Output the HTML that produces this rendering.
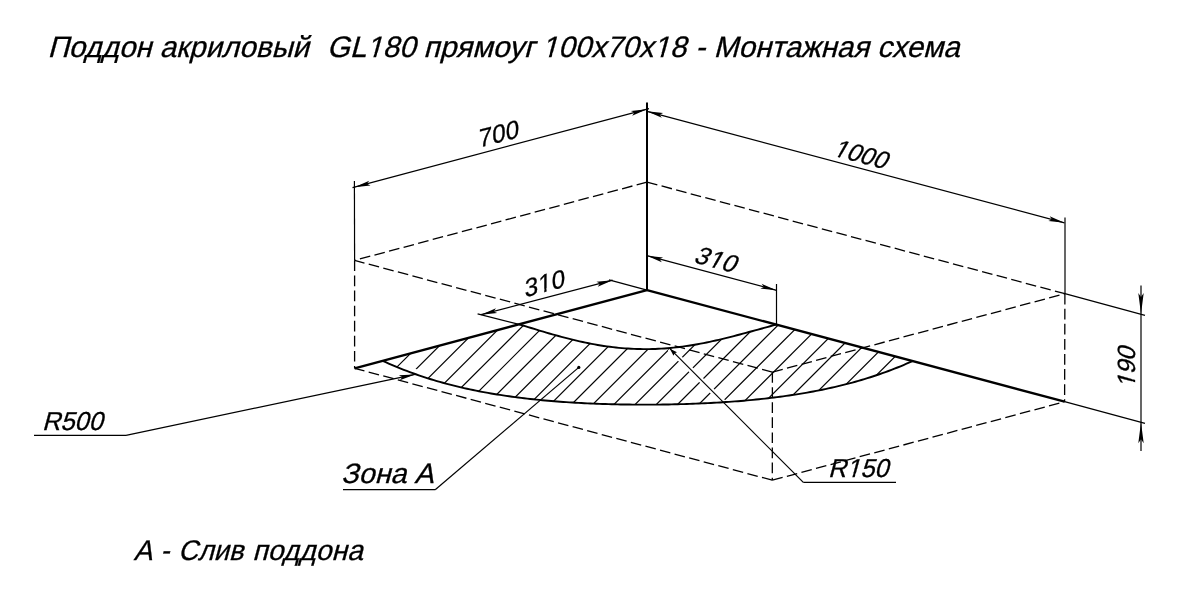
<!DOCTYPE html>
<html><head><meta charset="utf-8"><style>
html,body{margin:0;padding:0;background:#fff;}
svg{display:block;will-change:transform;}
text{font-family:"Liberation Sans",sans-serif;fill:#000;stroke:#000;stroke-width:0.3px;}
.da{stroke:#000;stroke-width:1.3;stroke-dasharray:10.7 4.38;fill:none;}
.th,.th line{stroke:#000;stroke-width:1.2;fill:none;}
.tk{stroke:#000;stroke-width:2.4;fill:none;}
.tk2{stroke:#000;stroke-width:2;fill:none;}
.arc{stroke:#000;stroke-width:1.9;fill:none;}
.ar{fill:#000;stroke:none;}
</style></head>
<body><svg width="1188" height="600" viewBox="0 0 1188 600">
<rect width="1188" height="600" fill="#fff"/>
<line x1="647" y1="182.1" x2="354.6" y2="260.4" class="da"/>
<line x1="647" y1="182.1" x2="1064.9" y2="293.7" class="da"/>
<line x1="772.4" y1="372.1" x2="1064.9" y2="293.7" class="da"/>
<line x1="772.4" y1="372.1" x2="354.6" y2="260.4" class="da"/>
<line x1="354.6" y1="260.4" x2="354.6" y2="368.3" class="da"/>
<line x1="1064.9" y1="293.7" x2="1064.6" y2="401.7" class="da"/>
<line x1="772.4" y1="372.1" x2="772.3" y2="480.2" class="da"/>
<line x1="772.3" y1="480.2" x2="354.6" y2="368.3" class="da"/>
<line x1="772.3" y1="480.2" x2="1064.6" y2="401.7" class="da"/>
<clipPath id="hc"><path d="M382.69,360.79 L519.12,324.3 L522.14,325.23 L525.17,326.17 L528.19,327.1 L531.22,328.03 L534.24,328.95 L537.26,329.88 L540.29,330.79 L543.31,331.69 L546.34,332.59 L549.36,333.47 L552.39,334.34 L555.41,335.19 L558.43,336.03 L561.46,336.86 L564.48,337.66 L567.51,338.44 L570.53,339.2 L573.55,339.95 L576.58,340.66 L579.6,341.36 L582.63,342.03 L585.65,342.67 L588.67,343.29 L591.7,343.88 L594.72,344.44 L597.75,344.97 L600.77,345.47 L603.79,345.94 L606.82,346.38 L609.84,346.79 L612.87,347.17 L615.89,347.51 L618.91,347.83 L621.94,348.11 L624.96,348.35 L627.99,348.56 L631.01,348.74 L634.04,348.89 L637.06,349 L640.08,349.07 L643.11,349.11 L646.13,349.12 L649.16,349.09 L652.18,349.03 L655.2,348.93 L658.23,348.8 L661.25,348.64 L664.28,348.44 L667.3,348.21 L670.32,347.95 L673.35,347.66 L676.37,347.33 L679.4,346.97 L682.42,346.59 L685.44,346.17 L688.47,345.72 L691.49,345.24 L694.52,344.74 L697.54,344.21 L700.57,343.65 L703.59,343.07 L706.61,342.46 L709.64,341.83 L712.66,341.18 L715.69,340.51 L718.71,339.81 L721.73,339.1 L724.76,338.37 L727.78,337.62 L730.81,336.86 L733.83,336.08 L736.85,335.29 L739.88,334.49 L742.9,333.68 L745.93,332.87 L748.95,332.04 L751.97,331.21 L755,330.38 L758.02,329.55 L761.05,328.71 L764.07,327.88 L767.09,327.06 L770.12,326.23 L773.14,325.42 L776.17,324.62 L912.53,361.06 L909.52,362.41 L906.51,363.73 L903.5,365.02 L900.49,366.27 L897.48,367.5 L894.47,368.69 L891.46,369.86 L888.45,370.99 L885.44,372.1 L882.43,373.18 L879.42,374.23 L876.41,375.26 L873.4,376.26 L870.39,377.23 L867.38,378.18 L864.37,379.11 L861.36,380.01 L858.34,380.88 L855.33,381.73 L852.32,382.56 L849.31,383.37 L846.3,384.16 L843.29,384.92 L840.28,385.67 L837.27,386.39 L834.26,387.09 L831.25,387.78 L828.24,388.44 L825.23,389.08 L822.22,389.71 L819.21,390.32 L816.2,390.91 L813.19,391.48 L810.18,392.04 L807.17,392.58 L804.16,393.11 L801.15,393.61 L798.14,394.11 L795.12,394.58 L792.11,395.05 L789.1,395.49 L786.09,395.93 L783.08,396.35 L780.07,396.76 L777.06,397.15 L774.05,397.53 L771.04,397.9 L768.03,398.25 L765.02,398.6 L762.01,398.93 L759,399.25 L755.99,399.55 L752.98,399.85 L749.97,400.14 L746.96,400.41 L743.95,400.68 L740.94,400.93 L737.93,401.18 L734.92,401.42 L731.9,401.64 L728.89,401.86 L725.88,402.06 L722.87,402.26 L719.86,402.45 L716.85,402.63 L713.84,402.8 L710.83,402.97 L707.82,403.12 L704.81,403.27 L701.8,403.41 L698.79,403.54 L695.78,403.67 L692.77,403.78 L689.76,403.89 L686.75,403.99 L683.74,404.08 L680.73,404.17 L677.72,404.25 L674.71,404.32 L671.69,404.39 L668.68,404.44 L665.67,404.49 L662.66,404.54 L659.65,404.58 L656.64,404.61 L653.63,404.63 L650.62,404.64 L647.61,404.65 L644.6,404.66 L641.59,404.65 L638.58,404.64 L635.57,404.62 L632.56,404.6 L629.55,404.56 L626.54,404.53 L623.53,404.48 L620.52,404.43 L617.51,404.37 L614.5,404.3 L611.49,404.22 L608.47,404.14 L605.46,404.05 L602.45,403.95 L599.44,403.85 L596.43,403.73 L593.42,403.61 L590.41,403.48 L587.4,403.34 L584.39,403.2 L581.38,403.04 L578.37,402.88 L575.36,402.71 L572.35,402.53 L569.34,402.34 L566.33,402.14 L563.32,401.93 L560.31,401.71 L557.3,401.48 L554.29,401.24 L551.28,400.99 L548.27,400.73 L545.25,400.46 L542.24,400.18 L539.23,399.89 L536.22,399.59 L533.21,399.27 L530.2,398.94 L527.19,398.6 L524.18,398.25 L521.17,397.88 L518.16,397.5 L515.15,397.11 L512.14,396.7 L509.13,396.28 L506.12,395.85 L503.11,395.4 L500.1,394.93 L497.09,394.46 L494.08,393.96 L491.07,393.45 L488.06,392.92 L485.05,392.37 L482.03,391.81 L479.02,391.23 L476.01,390.64 L473,390.02 L469.99,389.39 L466.98,388.73 L463.97,388.06 L460.96,387.36 L457.95,386.65 L454.94,385.92 L451.93,385.16 L448.92,384.38 L445.91,383.58 L442.9,382.76 L439.89,381.92 L436.88,381.05 L433.87,380.15 L430.86,379.24 L427.85,378.29 L424.84,377.32 L421.83,376.33 L418.81,375.31 L415.8,374.26 L412.79,373.19 L409.78,372.08 L406.77,370.95 L403.76,369.79 L400.75,368.6 L397.74,367.37 L394.73,366.12 L391.72,364.84 L388.71,363.52 L385.7,362.17 L382.69,360.79 Z"/></clipPath>
<mask id="hm" maskUnits="userSpaceOnUse" x="0" y="0" width="1188" height="600"><rect width="1188" height="600" fill="#fff"/><line x1="669.9" y1="348.7" x2="803.3" y2="482.4" stroke="#000" stroke-width="5.5"/><circle cx="673" cy="352" r="5" fill="#000"/><circle cx="414" cy="373.6" r="5" fill="#000"/></mask>
<g clip-path="url(#hc)"><g mask="url(#hm)" class="th"><line x1="174.4" y1="420" x2="294.4" y2="300"/><line x1="195.6" y1="420" x2="315.6" y2="300"/><line x1="216.8" y1="420" x2="336.8" y2="300"/><line x1="238" y1="420" x2="358" y2="300"/><line x1="259.2" y1="420" x2="379.2" y2="300"/><line x1="280.4" y1="420" x2="400.4" y2="300"/><line x1="301.6" y1="420" x2="421.6" y2="300"/><line x1="322.8" y1="420" x2="442.8" y2="300"/><line x1="344" y1="420" x2="464" y2="300"/><line x1="365.2" y1="420" x2="485.2" y2="300"/><line x1="386.4" y1="420" x2="506.4" y2="300"/><line x1="407.6" y1="420" x2="527.6" y2="300"/><line x1="428.8" y1="420" x2="548.8" y2="300"/><line x1="450" y1="420" x2="570" y2="300"/><line x1="471.2" y1="420" x2="591.2" y2="300"/><line x1="492.4" y1="420" x2="612.4" y2="300"/><line x1="513.6" y1="420" x2="633.6" y2="300"/><line x1="534.8" y1="420" x2="654.8" y2="300"/><line x1="556" y1="420" x2="676" y2="300"/><line x1="577.2" y1="420" x2="697.2" y2="300"/><line x1="598.4" y1="420" x2="718.4" y2="300"/><line x1="619.6" y1="420" x2="739.6" y2="300"/><line x1="640.8" y1="420" x2="760.8" y2="300"/><line x1="662" y1="420" x2="782" y2="300"/><line x1="683.2" y1="420" x2="803.2" y2="300"/><line x1="704.4" y1="420" x2="824.4" y2="300"/><line x1="725.6" y1="420" x2="845.6" y2="300"/><line x1="746.8" y1="420" x2="866.8" y2="300"/><line x1="768" y1="420" x2="888" y2="300"/><line x1="789.2" y1="420" x2="909.2" y2="300"/><line x1="810.4" y1="420" x2="930.4" y2="300"/><line x1="831.6" y1="420" x2="951.6" y2="300"/><line x1="852.8" y1="420" x2="972.8" y2="300"/><line x1="874" y1="420" x2="994" y2="300"/><line x1="895.2" y1="420" x2="1015.2" y2="300"/><line x1="916.4" y1="420" x2="1036.4" y2="300"/><line x1="937.6" y1="420" x2="1057.6" y2="300"/><line x1="958.8" y1="420" x2="1078.8" y2="300"/><line x1="980" y1="420" x2="1100" y2="300"/></g></g>
<path d="M519.12,324.3 L522.14,325.23 L525.17,326.17 L528.19,327.1 L531.22,328.03 L534.24,328.95 L537.26,329.88 L540.29,330.79 L543.31,331.69 L546.34,332.59 L549.36,333.47 L552.39,334.34 L555.41,335.19 L558.43,336.03 L561.46,336.86 L564.48,337.66 L567.51,338.44 L570.53,339.2 L573.55,339.95 L576.58,340.66 L579.6,341.36 L582.63,342.03 L585.65,342.67 L588.67,343.29 L591.7,343.88 L594.72,344.44 L597.75,344.97 L600.77,345.47 L603.79,345.94 L606.82,346.38 L609.84,346.79 L612.87,347.17 L615.89,347.51 L618.91,347.83 L621.94,348.11 L624.96,348.35 L627.99,348.56 L631.01,348.74 L634.04,348.89 L637.06,349 L640.08,349.07 L643.11,349.11 L646.13,349.12 L649.16,349.09 L652.18,349.03 L655.2,348.93 L658.23,348.8 L661.25,348.64 L664.28,348.44 L667.3,348.21 L670.32,347.95 L673.35,347.66 L676.37,347.33 L679.4,346.97 L682.42,346.59 L685.44,346.17 L688.47,345.72 L691.49,345.24 L694.52,344.74 L697.54,344.21 L700.57,343.65 L703.59,343.07 L706.61,342.46 L709.64,341.83 L712.66,341.18 L715.69,340.51 L718.71,339.81 L721.73,339.1 L724.76,338.37 L727.78,337.62 L730.81,336.86 L733.83,336.08 L736.85,335.29 L739.88,334.49 L742.9,333.68 L745.93,332.87 L748.95,332.04 L751.97,331.21 L755,330.38 L758.02,329.55 L761.05,328.71 L764.07,327.88 L767.09,327.06 L770.12,326.23 L773.14,325.42 L776.17,324.62" class="arc"/>
<path d="M382.69,360.79 L385.7,362.17 L388.71,363.52 L391.72,364.84 L394.73,366.12 L397.74,367.37 L400.75,368.6 L403.76,369.79 L406.77,370.95 L409.78,372.08 L412.79,373.19 L415.8,374.26 L418.81,375.31 L421.83,376.33 L424.84,377.32 L427.85,378.29 L430.86,379.24 L433.87,380.15 L436.88,381.05 L439.89,381.92 L442.9,382.76 L445.91,383.58 L448.92,384.38 L451.93,385.16 L454.94,385.92 L457.95,386.65 L460.96,387.36 L463.97,388.06 L466.98,388.73 L469.99,389.39 L473,390.02 L476.01,390.64 L479.02,391.23 L482.03,391.81 L485.05,392.37 L488.06,392.92 L491.07,393.45 L494.08,393.96 L497.09,394.46 L500.1,394.93 L503.11,395.4 L506.12,395.85 L509.13,396.28 L512.14,396.7 L515.15,397.11 L518.16,397.5 L521.17,397.88 L524.18,398.25 L527.19,398.6 L530.2,398.94 L533.21,399.27 L536.22,399.59 L539.23,399.89 L542.24,400.18 L545.25,400.46 L548.27,400.73 L551.28,400.99 L554.29,401.24 L557.3,401.48 L560.31,401.71 L563.32,401.93 L566.33,402.14 L569.34,402.34 L572.35,402.53 L575.36,402.71 L578.37,402.88 L581.38,403.04 L584.39,403.2 L587.4,403.34 L590.41,403.48 L593.42,403.61 L596.43,403.73 L599.44,403.85 L602.45,403.95 L605.46,404.05 L608.47,404.14 L611.49,404.22 L614.5,404.3 L617.51,404.37 L620.52,404.43 L623.53,404.48 L626.54,404.53 L629.55,404.56 L632.56,404.6 L635.57,404.62 L638.58,404.64 L641.59,404.65 L644.6,404.66 L647.61,404.65 L650.62,404.64 L653.63,404.63 L656.64,404.61 L659.65,404.58 L662.66,404.54 L665.67,404.49 L668.68,404.44 L671.69,404.39 L674.71,404.32 L677.72,404.25 L680.73,404.17 L683.74,404.08 L686.75,403.99 L689.76,403.89 L692.77,403.78 L695.78,403.67 L698.79,403.54 L701.8,403.41 L704.81,403.27 L707.82,403.12 L710.83,402.97 L713.84,402.8 L716.85,402.63 L719.86,402.45 L722.87,402.26 L725.88,402.06 L728.89,401.86 L731.9,401.64 L734.92,401.42 L737.93,401.18 L740.94,400.93 L743.95,400.68 L746.96,400.41 L749.97,400.14 L752.98,399.85 L755.99,399.55 L759,399.25 L762.01,398.93 L765.02,398.6 L768.03,398.25 L771.04,397.9 L774.05,397.53 L777.06,397.15 L780.07,396.76 L783.08,396.35 L786.09,395.93 L789.1,395.49 L792.11,395.05 L795.12,394.58 L798.14,394.11 L801.15,393.61 L804.16,393.11 L807.17,392.58 L810.18,392.04 L813.19,391.48 L816.2,390.91 L819.21,390.32 L822.22,389.71 L825.23,389.08 L828.24,388.44 L831.25,387.78 L834.26,387.09 L837.27,386.39 L840.28,385.67 L843.29,384.92 L846.3,384.16 L849.31,383.37 L852.32,382.56 L855.33,381.73 L858.34,380.88 L861.36,380.01 L864.37,379.11 L867.38,378.18 L870.39,377.23 L873.4,376.26 L876.41,375.26 L879.42,374.23 L882.43,373.18 L885.44,372.1 L888.45,370.99 L891.46,369.86 L894.47,368.69 L897.48,367.5 L900.49,366.27 L903.5,365.02 L906.51,363.73 L909.52,362.41 L912.53,361.06" class="arc"/>
<line x1="647" y1="290.1" x2="354.6" y2="368.3" class="tk"/>
<line x1="647" y1="290.1" x2="1064.6" y2="401.7" class="tk"/>
<line x1="647" y1="102.5" x2="647" y2="290.1" class="tk2"/>
<line x1="354.4" y1="181" x2="354.6" y2="260.4" class="th"/>
<line x1="1065" y1="217.5" x2="1065" y2="293.7" class="th"/>
<line x1="352.5" y1="187.7" x2="649" y2="108.6" class="th"/>
<path d="M354.4,187.2L370.5,185.49L366.96,183.85L369.22,180.66Z" class="ar"/>
<path d="M647,109.2L630.9,110.91L634.44,112.55L632.18,115.74Z" class="ar"/>
<line x1="647" y1="111.3" x2="1064.5" y2="222.8" class="th"/>
<path d="M647,111.3L661.81,117.84L659.56,114.65L663.1,113.01Z" class="ar"/>
<path d="M1064.5,222.8L1049.69,216.26L1051.94,219.45L1048.4,221.09Z" class="ar"/>
<line x1="647" y1="255.7" x2="776.5" y2="290.3" class="th"/>
<path d="M647,255.7L661.81,262.25L659.56,259.06L663.1,257.41Z" class="ar"/>
<path d="M776.5,290.3L761.69,283.75L763.94,286.94L760.4,288.59Z" class="ar"/>
<line x1="776.5" y1="284" x2="776.5" y2="324.6" class="th"/>
<line x1="481.1" y1="314.7" x2="612.6" y2="280.2" class="th"/>
<path d="M481.1,314.7L497.21,313.06L493.67,311.4L495.94,308.22Z" class="ar"/>
<path d="M612.6,280.2L596.49,281.84L600.03,283.5L597.76,286.68Z" class="ar"/>
<line x1="477.6" y1="313.9" x2="519.12" y2="324.3" class="th"/>
<line x1="609" y1="279.9" x2="647" y2="290.1" class="th"/>
<line x1="1064.9" y1="293.7" x2="1145" y2="315.4" class="th"/>
<line x1="1064.6" y1="401.7" x2="1145" y2="423.4" class="th"/>
<line x1="1141" y1="285.4" x2="1141" y2="451" class="th"/>
<path d="M1141,314.1L1143.7,293.1L1141,297.1L1138.3,293.1Z" class="ar"/>
<path d="M1141,422.2L1138.3,443.2L1141,439.2L1143.7,443.2Z" class="ar"/>
<line x1="34" y1="435.3" x2="126" y2="435.3" class="th"/>
<line x1="126" y1="435.3" x2="415" y2="374.4" class="th"/>
<path d="M415,374.4L398.83,375.25L402.28,377.08L399.86,380.15Z" class="ar"/>
<line x1="343" y1="489.7" x2="435.2" y2="489.7" class="th"/>
<line x1="435.2" y1="489.7" x2="578.8" y2="367.4" class="th"/>
<circle cx="578.8" cy="367.4" r="1.6" fill="#000"/>
<line x1="803.3" y1="482.4" x2="896" y2="482.4" class="th"/>
<line x1="803.3" y1="482.4" x2="669.9" y2="348.7" class="th"/>
<path d="M669.9,348.7L673.5,355.85L674.56,353.37L677.04,352.31Z" class="ar"/>
<text id="tx0" x="0" y="0" font-size="25" text-anchor="middle" dy="0.35em" transform="translate(499,133.4) rotate(-14.93) skewX(-15) scale(1.0,1)">700</text>
<mask id="mtx1" maskUnits="userSpaceOnUse" x="-2000" y="-2000" width="4000" height="4000"><rect x="-2000" y="-2000" width="4000" height="4000" fill="#fff"/><rect x="-26.7" y="5.45" width="5.11" height="5.13" fill="#000"/><rect x="-19.23" y="5.45" width="4.98" height="5.13" fill="#000"/></mask>
<text id="tx1" x="0" y="0" font-size="25" text-anchor="middle" dy="0.35em" transform="translate(862.6,154.5) rotate(14.95) skewX(-15) scale(0.98,1)" mask="url(#mtx1)">1000</text>
<mask id="mtx2" maskUnits="userSpaceOnUse" x="-2000" y="-2000" width="4000" height="4000"><rect x="-2000" y="-2000" width="4000" height="4000" fill="#fff"/><rect x="-5.86" y="5.45" width="5.11" height="5.13" fill="#000"/><rect x="1.61" y="5.45" width="4.98" height="5.13" fill="#000"/></mask>
<text id="tx2" x="0" y="0" font-size="25" text-anchor="middle" dy="0.35em" transform="translate(717.5,259.6) rotate(14.95) skewX(-15) scale(1.0,1)" mask="url(#mtx2)">310</text>
<mask id="mtx3" maskUnits="userSpaceOnUse" x="-2000" y="-2000" width="4000" height="4000"><rect x="-2000" y="-2000" width="4000" height="4000" fill="#fff"/><rect x="-5.86" y="5.45" width="5.11" height="5.13" fill="#000"/><rect x="1.61" y="5.45" width="4.98" height="5.13" fill="#000"/></mask>
<text id="tx3" x="0" y="0" font-size="25" text-anchor="middle" dy="0.35em" transform="translate(545,283) rotate(-14.93) skewX(-15) scale(1.0,1)" mask="url(#mtx3)">310</text>
<mask id="mtx4" maskUnits="userSpaceOnUse" x="-2000" y="-2000" width="4000" height="4000"><rect x="-2000" y="-2000" width="4000" height="4000" fill="#fff"/><rect x="-19.75" y="5.45" width="5.11" height="5.13" fill="#000"/><rect x="-12.28" y="5.45" width="4.98" height="5.13" fill="#000"/></mask>
<text id="tx4" x="0" y="0" font-size="25" text-anchor="middle" dy="0.35em" transform="translate(1126.1,365.4) rotate(-90) skewX(-15) scale(0.985,1)" mask="url(#mtx4)">190</text>
<text id="tx5" x="0" y="0" font-size="29.6" transform="translate(47.4,56.6) skewX(-15) scale(0.9954,1)">Поддон акриловый</text>
<mask id="mtx6" maskUnits="userSpaceOnUse" x="-2000" y="-2000" width="4000" height="4000"><rect x="-2000" y="-2000" width="4000" height="4000" fill="#fff"/><rect x="40.75" y="-3.9" width="6.06" height="6.07" fill="#000"/><rect x="49.6" y="-3.9" width="5.9" height="6.07" fill="#000"/></mask>
<text id="tx6" x="0" y="0" font-size="29.6" transform="translate(326.8,56.6) skewX(-15) scale(0.9978,1)" mask="url(#mtx6)">GL180</text>
<text id="tx7" x="0" y="0" font-size="29.6" transform="translate(423.3,56.6) skewX(-15) scale(1.009,1)">прямоуг</text>
<mask id="mtx8" maskUnits="userSpaceOnUse" x="-2000" y="-2000" width="4000" height="4000"><rect x="-2000" y="-2000" width="4000" height="4000" fill="#fff"/><rect x="1.3" y="-3.9" width="6.06" height="6.07" fill="#000"/><rect x="10.15" y="-3.9" width="5.9" height="6.07" fill="#000"/><rect x="113.16" y="-3.9" width="6.06" height="6.07" fill="#000"/><rect x="122.01" y="-3.9" width="5.9" height="6.07" fill="#000"/></mask>
<text id="tx8" x="0" y="0" font-size="29.6" transform="translate(541.6,56.6) skewX(-15) scale(0.9984,1)" mask="url(#mtx8)">100х70х18</text>
<text id="tx9" x="0" y="0" font-size="29.6" transform="translate(695.3,56.6) skewX(-15) scale(1.0,1)">-</text>
<text id="tx10" x="0" y="0" font-size="29.6" transform="translate(713.4,56.6) skewX(-15) scale(0.9967,1)">Монтажная схема</text>
<text id="tx11" x="0" y="0" font-size="28.5" transform="translate(133.6,559.8) skewX(-15) scale(0.9793,1)">A</text>
<text id="tx12" x="0" y="0" font-size="28.5" transform="translate(160.2,559.8) skewX(-15) scale(0.9358,1)">-</text>
<text id="tx13" x="0" y="0" font-size="28.5" transform="translate(178.1,559.8) skewX(-15) scale(0.9545,1)">Слив</text>
<text id="tx14" x="0" y="0" font-size="28.5" transform="translate(252.2,559.8) skewX(-15) scale(0.9927,1)">поддона</text>
<text id="tx15" x="0" y="0" font-size="28" transform="translate(341.1,482.9) skewX(-15) scale(1.0264,1)">Зона А</text>
<text id="tx16" x="0" y="0" font-size="26" transform="translate(41.9,429.9) skewX(-15) scale(0.9775,1)">R500</text>
<mask id="mtx17" maskUnits="userSpaceOnUse" x="-2000" y="-2000" width="4000" height="4000"><rect x="-2000" y="-2000" width="4000" height="4000" fill="#fff"/><rect x="19.9" y="-3.43" width="5.32" height="5.33" fill="#000"/><rect x="27.67" y="-3.43" width="5.18" height="5.33" fill="#000"/></mask>
<text id="tx17" x="0" y="0" font-size="26" transform="translate(828.0,476.9) skewX(-15) scale(0.9677,1)" mask="url(#mtx17)">R150</text>
</svg></body></html>
